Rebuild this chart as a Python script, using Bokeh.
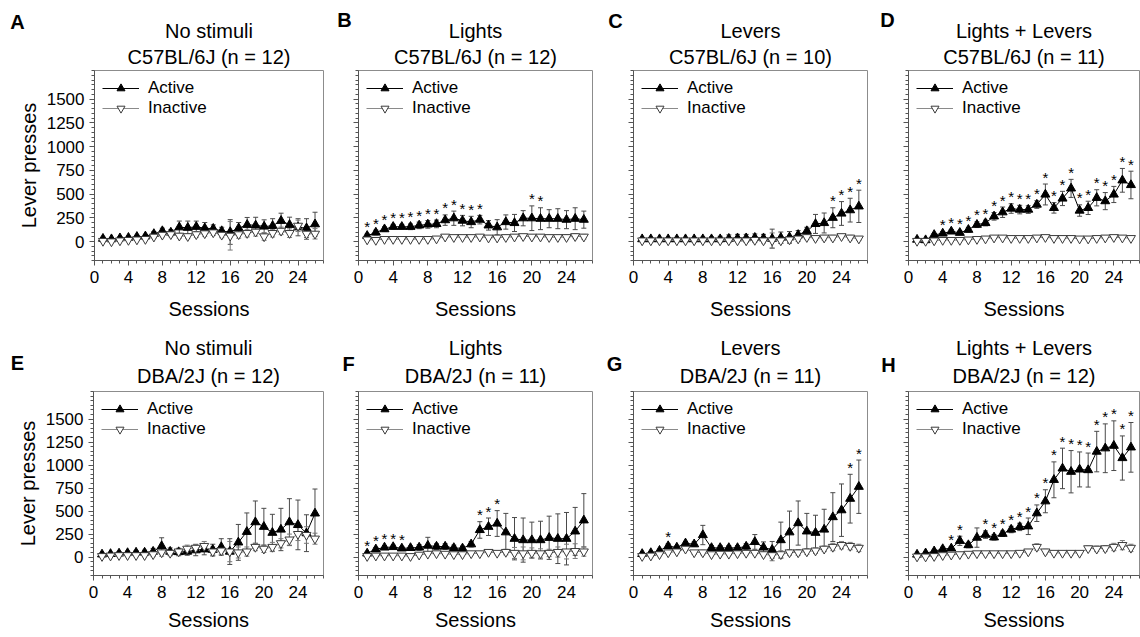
from bokeh.plotting import figure
from bokeh.models import (Range1d, FixedTicker, ColumnDataSource, Whisker, TeeHead,
                          Legend, LegendItem, Label, Title)
from bokeh.layouts import row, column
from bokeh.embed import file_html
from bokeh.resources import INLINE
from bokeh.core.properties import value

FONT = "Liberation Sans"

# ---------------- data ----------------
sessions = list(range(1, 27))
x_ticks = [0, 4, 8, 12, 16, 20, 24]
x_minor = list(range(0, 28))
y_ticks = [0, 250, 500, 750, 1000, 1250, 1500]
y_minor = list(range(-200, 1801, 50))
X_MIN, X_MAX = 0, 27
Y_MIN, Y_MAX = -200, 1800

letters = ["A", "B", "C", "D", "E", "F", "G", "H"]
titles_1 = ["No stimuli", "Lights", "Levers", "Lights + Levers",
            "No stimuli", "Lights", "Levers", "Lights + Levers"]
titles_2 = ["C57BL/6J (n = 12)", "C57BL/6J (n = 12)", "C57BL/6J (n = 10)", "C57BL/6J (n = 11)",
            "DBA/2J (n = 12)", "DBA/2J (n = 11)", "DBA/2J (n = 11)", "DBA/2J (n = 12)"]

a_active = [30, 25, 35, 40, 50, 55, 80, 110, 95, 150, 145, 155, 140, 135, 110, 100, 140, 176, 170, 158, 165, 218, 176, 150, 140, 182]
a_active_sem = [15, 15, 15, 15, 15, 20, 25, 30, 30, 65, 70, 60, 60, 40, 40, 130, 60, 77, 85, 70, 75, 80, 80, 90, 100, 126]
a_inactive = [5, 0, 10, 15, 20, 25, 50, 70, 75, 60, 55, 75, 85, 95, 70, 60, 75, 88, 102, 53, 88, 112, 88, 165, 81, 81]
a_inactive_sem = [10, 10, 10, 10, 10, 10, 15, 20, 25, 25, 25, 30, 30, 30, 30, 150, 40, 40, 45, 40, 40, 40, 45, 60, 60, 55]
a_stars = []

b_active = [60, 95, 130, 155, 155, 155, 170, 180, 185, 225, 245, 220, 205, 230, 170, 150, 205, 195, 245, 245, 240, 240, 240, 230, 240, 230]
b_active_sem = [20, 25, 25, 25, 25, 30, 35, 40, 40, 55, 75, 55, 60, 45, 50, 80, 75, 90, 80, 130, 115, 95, 105, 95, 115, 90]
b_inactive = [20, 15, 25, 25, 25, 25, 25, 25, 30, 50, 45, 45, 45, 50, 40, 40, 45, 50, 55, 50, 50, 45, 45, 45, 55, 50]
b_inactive_sem = [10, 10, 10, 10, 10, 10, 10, 10, 10, 15, 15, 15, 15, 15, 15, 15, 20, 20, 20, 20, 20, 20, 20, 25, 25, 25]
b_stars = [1, 2, 3, 4, 5, 6, 7, 8, 9, 10, 11, 12, 13, 14, 20, 21]

c_active = [25, 25, 25, 25, 25, 25, 25, 25, 25, 25, 30, 35, 35, 40, 35, 30, 40, 45, 70, 110, 185, 195, 250, 295, 330, 370]
c_active_sem = [15, 15, 15, 15, 15, 15, 15, 20, 25, 30, 40, 40, 40, 40, 40, 100, 60, 60, 45, 40, 100, 105, 105, 125, 125, 170]
c_inactive = [10, 10, 10, 10, 10, 10, 10, 10, 10, 10, 10, 10, 10, 15, 10, 10, 10, 20, 30, 45, 35, 40, 40, 55, 40, 30]
c_inactive_sem = [10, 10, 10, 10, 10, 10, 15, 15, 15, 20, 20, 20, 20, 25, 25, 80, 30, 40, 30, 25, 25, 25, 25, 20, 25, 20]
c_stars = [23, 24, 25, 26]

d_active = [20, 15, 70, 85, 106, 92, 124, 177, 195, 265, 308, 347, 336, 336, 389, 495, 354, 453, 559, 326, 354, 460, 425, 495, 644, 595]
d_active_sem = [10, 10, 15, 20, 20, 20, 25, 30, 30, 40, 55, 50, 45, 40, 40, 110, 55, 75, 95, 60, 70, 85, 90, 85, 125, 145]
d_inactive = [5, 5, 10, 15, 15, 15, 20, 25, 30, 40, 40, 35, 35, 35, 40, 45, 35, 35, 35, 30, 30, 35, 40, 45, 40, 35]
d_inactive_sem = [5, 5, 10, 10, 10, 10, 10, 10, 10, 10, 10, 10, 10, 10, 10, 15, 10, 10, 10, 10, 10, 10, 10, 15, 15, 15]
d_stars = list(range(4, 27))

e_active = [30, 35, 40, 45, 50, 50, 60, 120, 60, 55, 60, 75, 85, 80, 110, 60, 160, 275, 380, 330, 265, 300, 380, 350, 260, 475]
e_active_sem = [15, 15, 20, 20, 20, 25, 35, 90, 40, 40, 40, 60, 60, 60, 90, 140, 195, 205, 230, 200, 200, 230, 255, 270, 200, 265]
e_inactive = [10, 15, 20, 20, 20, 20, 30, 50, 45, 60, 90, 100, 120, 60, 70, 60, 50, 60, 110, 90, 110, 150, 190, 250, 240, 200]
e_inactive_sem = [10, 10, 10, 15, 15, 15, 25, 40, 30, 35, 40, 40, 50, 50, 40, 110, 60, 50, 40, 40, 50, 50, 60, 70, 90, 60]
e_stars = []

f_active = [40, 85, 105, 110, 95, 100, 105, 125, 115, 115, 100, 95, 140, 295, 330, 365, 270, 200, 185, 185, 185, 210, 200, 200, 280, 400]
f_active_sem = [15, 20, 20, 20, 20, 20, 30, 90, 30, 30, 30, 25, 30, 90, 95, 140, 205, 230, 240, 195, 205, 235, 270, 285, 260, 290]
f_inactive = [10, 15, 15, 15, 15, 10, 25, 35, 40, 35, 30, 30, 40, 40, 55, 45, 55, 45, 40, 45, 40, 45, 55, 60, 65, 60]
f_inactive_sem = [10, 10, 10, 10, 10, 10, 10, 15, 15, 15, 15, 15, 15, 15, 20, 20, 30, 60, 70, 55, 50, 40, 55, 80, 80, 50]
f_stars = [1, 2, 3, 4, 5, 14, 15, 16]

g_active = [35, 45, 70, 120, 105, 150, 140, 240, 100, 100, 100, 100, 115, 165, 105, 80, 185, 270, 370, 280, 265, 300, 435, 510, 635, 765]
g_active_sem = [10, 10, 15, 25, 15, 20, 25, 105, 25, 25, 25, 25, 30, 80, 60, 90, 195, 230, 240, 195, 190, 220, 265, 285, 265, 290]
g_inactive = [10, 15, 30, 50, 60, 90, 50, 50, 30, 35, 35, 40, 45, 45, 30, 20, 30, 50, 50, 60, 70, 90, 110, 130, 120, 100]
g_inactive_sem = [10, 10, 10, 15, 15, 20, 20, 25, 15, 15, 15, 15, 20, 20, 25, 60, 40, 30, 30, 30, 30, 30, 40, 40, 40, 40]
g_stars = [4, 25, 26]

h_active = [28, 42, 64, 88, 95, 177, 131, 212, 244, 215, 254, 300, 328, 335, 477, 607, 840, 964, 928, 953, 946, 1147, 1183, 1211, 1077, 1193]
h_active_sem = [10, 10, 15, 20, 20, 50, 30, 105, 40, 30, 30, 35, 40, 90, 90, 125, 195, 220, 230, 190, 185, 220, 265, 270, 240, 270]
h_inactive = [5, 5, 10, 20, 25, 30, 35, 40, 40, 40, 40, 40, 45, 60, 110, 60, 45, 45, 45, 45, 95, 90, 95, 110, 130, 100]
h_inactive_sem = [5, 5, 10, 10, 10, 15, 15, 15, 15, 15, 15, 15, 15, 20, 35, 25, 20, 20, 20, 20, 25, 30, 30, 40, 50, 40]
h_stars = [5, 6, 9, 10, 11, 12, 13, 14, 15, 16, 17, 18, 19, 20, 21, 22, 23, 24, 25, 26]

panel_data = [
    (a_active, a_active_sem, a_inactive, a_inactive_sem, a_stars),
    (b_active, b_active_sem, b_inactive, b_inactive_sem, b_stars),
    (c_active, c_active_sem, c_inactive, c_inactive_sem, c_stars),
    (d_active, d_active_sem, d_inactive, d_inactive_sem, d_stars),
    (e_active, e_active_sem, e_inactive, e_inactive_sem, e_stars),
    (f_active, f_active_sem, f_inactive, f_inactive_sem, f_stars),
    (g_active, g_active_sem, g_inactive, g_inactive_sem, g_stars),
    (h_active, h_active_sem, h_inactive, h_inactive_sem, h_stars),
]

# ---------------- layout (pixels) ----------------
col_left = [90, 30, 36, 36]
col_frame = [233, 234, 234, 231]
col_right = [5, 5, 5, 1]
row_top = [70, 61]
row_frame = [190, 184]
row_bottom = [70, 62]
title_standoff = [5, 9]
xlabel_standoff = [12, 8]
# panel letter centre, canvas px of each figure (from its top-left corner)
letter_cx = [17, 16, 18, 15, 17, 20, 17, 16]
letter_cy = [21, 19, 20, 19, 32, 33, 33, 34]

ACTIVE_ERR = "#4a4a4a"
INACTIVE_ERR = "#7a7a7a"
INACTIVE_LINE = "#8a8a8a"
INACTIVE_EDGE = "#3a3a3a"
AXIS_COL = "#555555"


def make_panel(i):
    r, c = divmod(i, 4)
    act, act_sem, ina, ina_sem, stars = panel_data[i]
    fw, fh = col_frame[c], row_frame[r]
    p = figure(width=col_left[c] + fw + col_right[c],
               height=row_top[r] + fh + row_bottom[r],
               x_range=Range1d(X_MIN, X_MAX), y_range=Range1d(Y_MIN, Y_MAX),
               output_backend="svg", toolbar_location=None, title=None,
               min_border_left=col_left[c], min_border_right=col_right[c],
               min_border_top=row_top[r], min_border_bottom=row_bottom[r])
    p.add_layout(Title(text=titles_2[i], align="center", text_font=FONT,
                       text_font_size="20px", text_font_style="normal",
                       text_color="black", standoff=title_standoff[r]), "above")
    p.add_layout(Title(text=titles_1[i], align="center", text_font=FONT,
                       text_font_size="20px", text_font_style="normal",
                       text_color="black", standoff=0), "above")
    p.grid.visible = False
    p.outline_line_color = "#8c8c8c"
    p.outline_line_width = 1

    xa = p.xaxis[0]
    xa.ticker = FixedTicker(ticks=x_ticks, minor_ticks=x_minor)
    ya = p.yaxis[0]
    ya.ticker = FixedTicker(ticks=y_ticks, minor_ticks=y_minor)
    for ax in (xa, ya):
        ax.axis_line_color = AXIS_COL
        ax.major_tick_line_color = AXIS_COL
        ax.minor_tick_line_color = AXIS_COL
        ax.major_tick_out = 5
        ax.major_tick_in = 0
        ax.minor_tick_out = 3
        ax.minor_tick_in = 0
        ax.major_label_text_font = FONT
        ax.major_label_text_font_size = "17px"
        ax.major_label_text_color = "black"
        ax.axis_label_text_font = FONT
        ax.axis_label_text_font_size = "20px"
        ax.axis_label_text_font_style = "normal"
        ax.axis_label_text_color = "black"
    xa.axis_label = "Sessions"
    xa.major_label_standoff = 5
    xa.axis_label_standoff = xlabel_standoff[r]
    if c == 0:
        ya.axis_label = "Lever presses"
        ya.major_label_standoff = 5
        ya.axis_label_standoff = 4
    else:
        ya.major_label_text_font_size = "1px"
        ya.major_label_text_color = None
        ya.major_label_standoff = 0

    src = ColumnDataSource(dict(
        x=sessions, act=act, ina=ina,
        act_up=[m + s for m, s in zip(act, act_sem)],
        act_lo=[m - s for m, s in zip(act, act_sem)],
        ina_up=[m + s for m, s in zip(ina, ina_sem)],
        ina_lo=[m - s for m, s in zip(ina, ina_sem)],
    ))

    p.add_layout(Whisker(source=src, base="x", upper="act_up", lower="act_lo",
                         line_color=ACTIVE_ERR, line_width=1, level="underlay",
                         upper_head=TeeHead(size=5, line_color=ACTIVE_ERR, line_width=1),
                         lower_head=TeeHead(size=5, line_color=ACTIVE_ERR, line_width=1)))
    p.add_layout(Whisker(source=src, base="x", upper="ina_up", lower="ina_lo",
                         line_color=INACTIVE_ERR, line_width=1, level="underlay",
                         upper_head=TeeHead(size=5, line_color=INACTIVE_ERR, line_width=1),
                         lower_head=TeeHead(size=5, line_color=INACTIVE_ERR, line_width=1)))

    a_line = p.line("x", "act", source=src, line_color="black", line_width=1)
    a_sc = p.scatter("x", "act", source=src, marker="triangle", size=9,
                     fill_color="black", line_color="black")
    i_line = p.line("x", "ina", source=src, line_color=INACTIVE_LINE, line_width=1)
    i_sc = p.scatter("x", "ina", source=src, marker="inverted_triangle", size=9,
                     fill_color="white", line_color=INACTIVE_EDGE, line_width=1)

    if stars:
        star_src = ColumnDataSource(dict(
            x=stars,
            y=[act[s - 1] + act_sem[s - 1] for s in stars],
            t=["*"] * len(stars)))
        p.text("x", "y", text="t", source=star_src, text_align="center",
               text_baseline="middle", y_offset=-7, text_font=value(FONT),
               text_font_size="15px", text_color="black")

    legend = Legend(items=[LegendItem(label="Active", renderers=[a_line, a_sc]),
                           LegendItem(label="Inactive", renderers=[i_line, i_sc])],
                    location="top_left", margin=8, padding=0, spacing=0,
                    glyph_width=37, glyph_height=20, label_height=20,
                    label_standoff=9, label_text_font=FONT,
                    label_text_font_size="17px", label_text_color="black",
                    border_line_color=None, background_fill_alpha=0)
    p.add_layout(legend)

    # panel letter: lives in the left side panel (not clipped to the frame)
    p.add_layout(Label(x=letter_cx[i], y=letter_cy[i], x_units="canvas", y_units="canvas",
                       text=letters[i], text_font=FONT, text_font_size="20px",
                       text_font_style="bold", text_align="center",
                       text_baseline="middle", text_color="black"), "left")
    return p


figs = [make_panel(i) for i in range(8)]
layout = column(row(*figs[:4]), row(*figs[4:]))

with open("out.html", "w") as f:
    f.write(file_html(layout, INLINE))
